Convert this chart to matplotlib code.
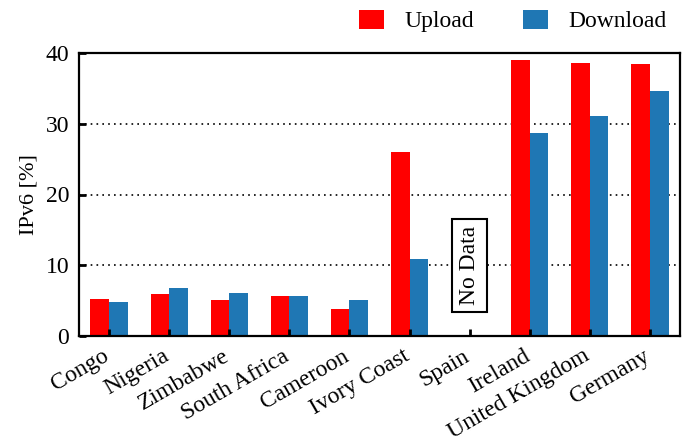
import matplotlib
matplotlib.use("Agg")
import matplotlib.pyplot as plt
import matplotlib.transforms as mtransforms
import numpy as np

countries = ["Congo", "Nigeria", "Zimbabwe", "South Africa", "Cameroon",
             "Ivory Coast", "Spain", "Ireland", "United Kingdom", "Germany"]
upload = [5.2, 5.9, 5.1, 5.65, 3.8, 26.0, 0, 39.0, 38.6, 38.4]
download = [4.8, 6.8, 6.1, 5.65, 5.1, 10.9, 0, 28.7, 31.1, 34.6]
yticks = [0, 10, 20, 30, 40]

plt.rcParams['font.family'] = ['Liberation Serif', 'DejaVu Serif']
plt.rcParams['font.size'] = 17

fig = plt.figure(figsize=(6.86, 4.42), dpi=100)
ax = fig.add_axes([79/686, 1-336/442, (680-79)/686, (336-53)/442])

x = np.arange(len(countries))
w = 0.31
ax.bar(x - w/2, upload, w, color='#ff0000', label='Upload', zorder=2)
ax.bar(x + w/2, download, w, color='#1f77b4', label='Download', zorder=2)

for t in yticks[1:-1]:
    ax.axhline(t, linestyle=(0, (1, 2.5)), color='black', linewidth=1.2, zorder=1)

ax.set_axisbelow(False)
ax.set_xlim(-0.5, len(countries) - 0.5)
ax.set_ylim(0, 40)
ax.set_yticks(yticks)
ax.set_xticks(x)
ax.set_xticklabels(countries, rotation=30, ha='right', rotation_mode='anchor')
ax.tick_params(axis='both', direction='in', length=5, width=2, labelsize=17, pad=4)
ax.tick_params(axis='y', pad=7)
offset = mtransforms.ScaledTranslation(-0.07, -0.04, fig.dpi_scale_trans)
for lbl in ax.get_xticklabels():
    lbl.set_transform(lbl.get_transform() + offset)
for s in ax.spines.values():
    s.set_linewidth(1.6)
    s.set_color('black')
    s.set_zorder(5)
ax.set_ylabel('IPv6 [%]', fontsize=16, labelpad=5)

ax.text(6, 10, 'No Data', rotation=90, ha='center', va='center', fontsize=17,
        bbox=dict(boxstyle='square,pad=0.3', facecolor='white', edgecolor='black', linewidth=1.5),
        zorder=4)

ax.legend(loc='center right', bbox_to_anchor=(0.978, (336-21)/283), ncol=2, frameon=False,
          handlelength=1.06, handleheight=0.85, columnspacing=2.1, handletextpad=0.85,
          fontsize=17, borderaxespad=0, borderpad=0)

fig.savefig('out.png', dpi=100)
